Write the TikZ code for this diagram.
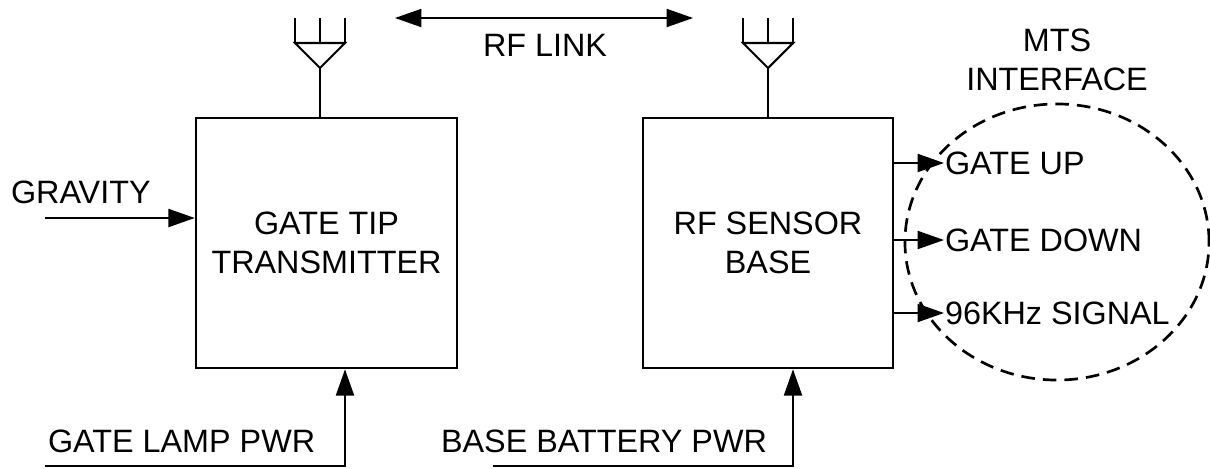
\documentclass[tikz,border=0pt]{standalone}
\usepackage{fontspec}
\setmainfont{Liberation Sans}
\usetikzlibrary{arrows.meta,positioning}
\newcommand{\diafont}{\fontsize{23pt}{28pt}\selectfont}
\tikzset{
  block/.style={draw, line width=1.7pt, minimum height=6.25cm, align=center, font=\diafont},
  lbl/.style={font=\diafont, inner sep=0pt, text height=16.5pt, text depth=0pt},
  sig/.style={-{Triangle[length=0.66cm,width=0.45cm]}},
  sigboth/.style={{Triangle[length=0.66cm,width=0.45cm]}-{Triangle[length=0.66cm,width=0.45cm]}},
  mtsline/.style={line width=1.9pt, dash pattern=on 0.34cm off 0.2cm}
}
\begin{document}
\begin{tikzpicture}[x=0.025cm, y=-0.025cm, line width=1.5pt]
        \useasboundingbox (0,0) rectangle (1210,468);

        % Blocks
        \node[block, minimum width=6.525cm] (ltx) at (326.5,243) {GATE TIP\\TRANSMITTER};
        \node[block, minimum width=6.25cm] (rsb) at (768,243) {RF SENSOR\\BASE};

        % Antennas
        \foreach \bx/\ax in {ltx/320, rsb/768} {
            \coordinate (\bx-ant) at (\ax,68);
            \draw (\bx-ant) -- (\bx-ant |- \bx.north);
            \draw (\bx-ant) -- ++(-25,-25) -- ++(50,0) -- cycle;
            \foreach \dx in {-25,0,25}
                \draw (\ax+\dx,43) -- ++(0,-25);
        }

        % RF link
        \coordinate (rfl) at (395,18);
        \coordinate (rfr) at (693,18);
        \draw[sigboth] (rfl) -- (rfr);
        \node[lbl] (rflink) at (545,45) {RF LINK};

        % Gravity input
        \node[lbl, anchor=west] (grav) at (10,192) {GRAVITY};
        \coordinate (gravin) at (45,218);
        \draw[sig] (gravin) -- (gravin -| ltx.west);

        % Power inputs
        \node[lbl, anchor=west] (lamp) at (47,441) {GATE LAMP PWR};
        \coordinate (lampin) at (45,466);
        \coordinate (lampup) at (345,466);
        \draw[sig] (lampin) -- (lampup) -- (lampup |- ltx.south);

        \node[lbl, anchor=west] (batt) at (440,441) {BASE BATTERY PWR};
        \coordinate (battin) at (493,466);
        \coordinate (battup) at (793,466);
        \draw[sig] (battin) -- (battup) -- (battup |- rsb.south);

        % Outputs to MTS
        \foreach \y/\nm/\txt in {163/gup/GATE UP, 240/gdown/GATE DOWN, 313/khz/96KHz SIGNAL} {
            \node[lbl, anchor=west] (\nm) at (944,\y) {\txt};
            \draw[sig] (\nm.west -| rsb.east) -- (\nm.west);
        }

        % MTS interface
        \node[font=\diafont, align=center, inner sep=0pt] (mts) at (1057,60) {MTS\\INTERFACE};
        \draw[mtsline] (1057,242) ellipse [x radius=3.8cm, y radius=3.45cm];
\end{tikzpicture}
\end{document}
